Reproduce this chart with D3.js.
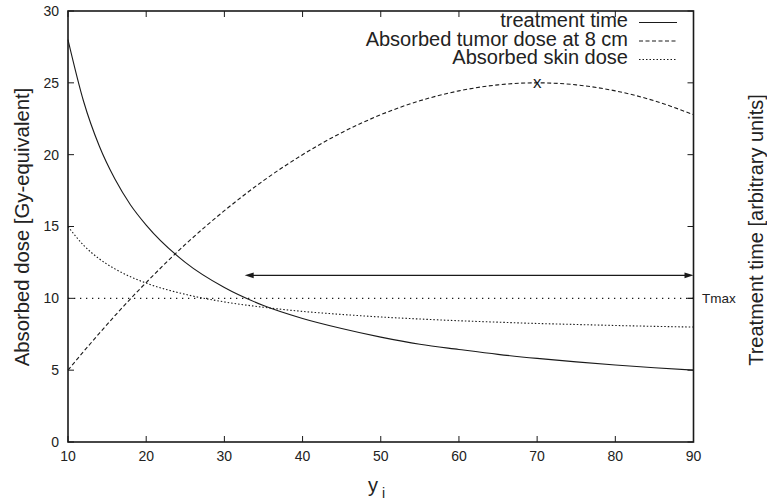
<!DOCTYPE html>
<html>
<head>
<meta charset="utf-8">
<script src="https://cdn.jsdelivr.net/npm/d3@7"></script>
<style>
  html, body { margin: 0; padding: 0; background: #fff; }
  svg { display: block; font-family: "Liberation Sans", Arial, Helvetica, sans-serif; }
</style>
</head>
<body>
<svg id="chart" width="767" height="504"></svg>
<script>
// ---- data ----
const xValues = [10, 12, 14, 16, 18, 20, 25, 30, 35, 40, 45, 50, 55, 60, 65, 70, 75, 80, 85, 90];
const treatmentTime = [28.0, 23.7, 20.6, 18.3, 16.5, 15.1, 12.5, 10.75, 9.5, 8.6, 7.9, 7.3, 6.8, 6.44, 6.1, 5.82, 5.58, 5.36, 5.17, 5.0];
const tumorDose = [5.0, 6.3, 7.56, 8.79, 9.97, 11.1, 13.75, 16.1, 18.19, 20.0, 21.53, 22.78, 23.75, 24.44, 24.86, 25.0, 24.86, 24.44, 23.75, 22.78];
const skinDose = [15.0, 13.69, 12.75, 12.05, 11.5, 11.06, 10.28, 9.75, 9.38, 9.09, 8.88, 8.7, 8.56, 8.44, 8.34, 8.25, 8.18, 8.11, 8.05, 8.0];
const seriesNames = ["treatment time", "Absorbed tumor dose at 8 cm", "Absorbed skin dose"];
const xTicks = [10, 20, 30, 40, 50, 60, 70, 80, 90];
const yTicks = [0, 5, 10, 15, 20, 25, 30];
const tmaxValue = 10;
const tmaxLabel = "Tmax";
const arrowY = 11.6, arrowFrom = 32.6, arrowTo = 90;
const peakPoint = { x: 70, y: 25, label: "x" };
const yLabel = "Absorbed dose [Gy-equivalent]";
const y2Label = "Treatment time [arbitrary units]";

// ---- layout ----
const svg = d3.select("#chart");
const L = 68, R = 693.5, T = 11, B = 442;
const x = d3.scaleLinear().domain([10, 90]).range([L, R]);
const y = d3.scaleLinear().domain([0, 30]).range([B, T]);
const ink = "#1a1a1a";

// Tmax dotted line
svg.append("line")
  .attr("x1", x(10)).attr("x2", x(90))
  .attr("y1", y(tmaxValue)).attr("y2", y(tmaxValue))
  .attr("stroke", ink).attr("stroke-width", 1.1)
  .attr("stroke-dasharray", "1.3,4.7");

// curves
const line = d3.line().x((d, i) => x(xValues[i])).y(d => y(d)).curve(d3.curveMonotoneX);
const styles = [
  { data: treatmentTime, dash: null },
  { data: tumorDose, dash: "4,2.5" },
  { data: skinDose, dash: "1.5,2" }
];
styles.forEach(s => {
  svg.append("path").attr("d", line(s.data))
    .attr("fill", "none").attr("stroke", ink).attr("stroke-width", 1.1)
    .attr("stroke-dasharray", s.dash);
});

// double arrow
const ay = y(arrowY), ax1 = x(arrowFrom), ax2 = x(arrowTo);
svg.append("line").attr("x1", ax1 + 4).attr("x2", ax2 - 4).attr("y1", ay).attr("y2", ay)
  .attr("stroke", ink).attr("stroke-width", 1.2);
svg.append("path").attr("d", `M${ax1},${ay} L${ax1 + 9},${ay - 2.8} L${ax1 + 9},${ay + 2.8} Z`).attr("fill", ink);
svg.append("path").attr("d", `M${ax2},${ay} L${ax2 - 9},${ay - 2.8} L${ax2 - 9},${ay + 2.8} Z`).attr("fill", ink);

// peak marker
svg.append("text").attr("x", x(peakPoint.x)).attr("y", y(peakPoint.y))
  .attr("text-anchor", "middle").attr("dy", "0.32em")
  .attr("font-size", 17).attr("fill", ink).text(peakPoint.label);

// ticks (inward, mirrored)
const tickLen = 6;
const tg = svg.append("g").attr("stroke", ink).attr("stroke-width", 1);
xTicks.forEach(t => {
  tg.append("line").attr("x1", x(t)).attr("x2", x(t)).attr("y1", B).attr("y2", B - tickLen);
  tg.append("line").attr("x1", x(t)).attr("x2", x(t)).attr("y1", T).attr("y2", T + tickLen);
});
yTicks.forEach(t => {
  tg.append("line").attr("x1", L).attr("x2", L + tickLen).attr("y1", y(t)).attr("y2", y(t));
  tg.append("line").attr("x1", R).attr("x2", R - tickLen).attr("y1", y(t)).attr("y2", y(t));
});
// y2 Tmax tick
tg.append("line").attr("x1", R).attr("x2", R - tickLen).attr("y1", y(tmaxValue)).attr("y2", y(tmaxValue));

// border
svg.append("rect").attr("x", L).attr("y", T).attr("width", R - L).attr("height", B - T)
  .attr("fill", "none").attr("stroke", ink).attr("stroke-width", 1.6);

// tick labels
const tl = svg.append("g").attr("font-size", 14).attr("fill", "#222");
xTicks.forEach(t => {
  tl.append("text").attr("x", x(t)).attr("y", 460.5).attr("text-anchor", "middle").text(t);
});
yTicks.forEach(t => {
  tl.append("text").attr("x", 59).attr("y", y(t)).attr("dy", "0.35em").attr("text-anchor", "end").text(t);
});
tl.append("text").attr("x", 702).attr("y", y(tmaxValue)).attr("dy", "0.35em").attr("font-size", 13.5).text(tmaxLabel);

// axis labels
svg.append("text").attr("transform", "translate(29,227) rotate(-90)")
  .attr("text-anchor", "middle").attr("font-size", 20.3).attr("fill", "#222").text(yLabel);
svg.append("text").attr("transform", "translate(763,230) rotate(-90)")
  .attr("text-anchor", "middle").attr("font-size", 20).attr("fill", "#222").text(y2Label);
const xl = svg.append("text").attr("x", 368).attr("y", 492).attr("font-size", 20).attr("fill", "#222");
xl.append("tspan").text("y");
xl.append("tspan").attr("dx", 4).attr("dy", 6).attr("font-size", 14).text("i");

// legend
const lg = svg.append("g");
const legendBase = [27, 45.5, 64];
styles.forEach((s, i) => {
  lg.append("text").attr("x", 628).attr("y", legendBase[i]).attr("text-anchor", "end")
    .attr("font-size", 20).attr("fill", "#222").text(seriesNames[i]);
  lg.append("line").attr("x1", 639).attr("x2", 677)
    .attr("y1", legendBase[i] - 4.5).attr("y2", legendBase[i] - 4.5)
    .attr("stroke", ink).attr("stroke-width", 1.1).attr("stroke-dasharray", s.dash);
});
</script>
</body>
</html>
